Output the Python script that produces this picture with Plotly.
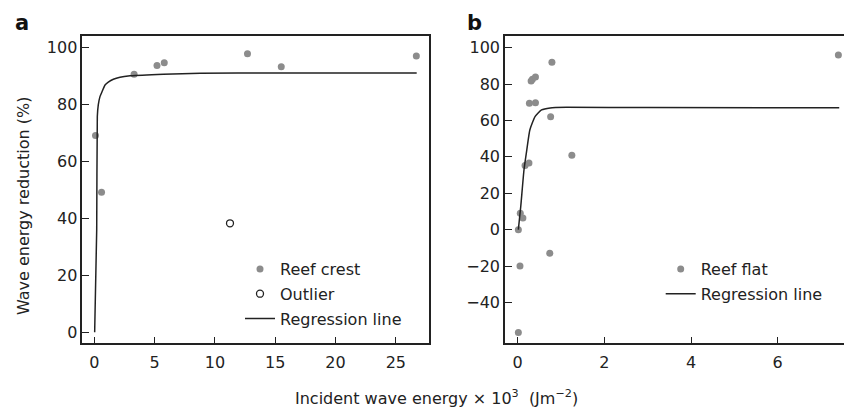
import plotly.graph_objects as go

# ---- Panel a: reef crest ----
crest_x = [0.1, 0.6, 3.3, 5.2, 5.8, 12.7, 15.5, 26.7]
crest_y = [69.1, 49.2, 90.7, 93.7, 94.7, 97.9, 93.3, 97.1]
outlier_x = [11.25]
outlier_y = [38.3]
reg_a_x = [0.03, 0.2, 0.25, 0.33, 0.47, 0.64, 0.89, 1.16, 1.58, 2.13, 2.96, 5.72, 8.79, 15.0, 20.0, 26.73]
reg_a_y = [0.0, 36.0, 75.8, 79.9, 82.8, 84.5, 86.9, 87.9, 88.9, 89.6, 90.1, 90.7, 91.0, 91.1, 91.1, 91.1]

# ---- Panel b: reef flat ----
flat_x = [0.015, 0.06, 0.12, 0.053, 0.015, 0.17, 0.26, 0.27, 0.41, 0.31, 0.34, 0.41, 0.79, 0.76, 0.74, 1.25, 7.40]
flat_y = [0.0, 9.0, 6.4, -19.9, -56.4, 35.2, 36.6, 69.4, 69.8, 81.7, 82.6, 83.9, 92.0, 62.1, -12.9, 40.9, 96.0]
reg_b_x = [0.015, 0.07, 0.145, 0.21, 0.28, 0.40, 0.55, 0.75, 1.13, 3.0, 7.42]
reg_b_y = [0.0, 12.6, 32.8, 43.8, 54.8, 62.1, 65.8, 66.9, 67.2, 67.1, 67.0]

ticks_a_x = [0, 5, 10, 15, 20, 25]
ticks_a_y = [0, 20, 40, 60, 80, 100]
ticks_b_x = [0, 2, 4, 6]
ticks_b_y = [-40, -20, 0, 20, 40, 60, 80, 100]

W, H = 844, 407
FONT = "DejaVu Sans"
TXT = "#222222"
GREY = "#8c8c8c"
LINE = "#222222"

def px(x):
    return x / W

def py(y):
    return 1 - y / H

fig = go.Figure()

fig.add_trace(go.Scatter(x=crest_x, y=crest_y, mode="markers", name="Reef crest",
                         marker=dict(color=GREY, size=7), xaxis="x", yaxis="y",
                         legend="legend", legendgroup="a1"))
fig.add_trace(go.Scatter(x=outlier_x, y=outlier_y, mode="markers", name="Outlier",
                         marker=dict(symbol="circle-open", color=LINE, size=7, line=dict(width=1.3)),
                         xaxis="x", yaxis="y", legend="legend", legendgroup="a2"))
fig.add_trace(go.Scatter(x=reg_a_x, y=reg_a_y, mode="lines", name="Regression line",
                         line=dict(color=LINE, width=1.5, shape="spline", smoothing=0.5),
                         xaxis="x", yaxis="y", legend="legend", legendgroup="a3"))

fig.add_trace(go.Scatter(x=flat_x, y=flat_y, mode="markers", name="Reef flat",
                         marker=dict(color=GREY, size=7), xaxis="x2", yaxis="y2",
                         legend="legend2", legendgroup="b1"))
fig.add_trace(go.Scatter(x=reg_b_x, y=reg_b_y, mode="lines", name="Regression line",
                         line=dict(color=LINE, width=1.5, shape="spline", smoothing=0.5),
                         xaxis="x2", yaxis="y2", legend="legend2", legendgroup="b2"))

ax_common = dict(showgrid=False, zeroline=False, showline=True, linecolor=LINE, linewidth=1.5,
                 ticks="inside", ticklen=7, tickcolor=LINE, tickwidth=1.2,
                 tickfont=dict(family=FONT, size=16, color=TXT))

ydom = [py(343.3), py(36)]

fig.update_layout(
    width=W, height=H,
    margin=dict(l=0, r=0, t=0, b=0),
    paper_bgcolor="white", plot_bgcolor="white",
    showlegend=True,
    xaxis=dict(domain=[px(82.3), px(429)], range=[-0.995, 27.75], tickvals=ticks_a_x,
               mirror=True, anchor="y", ticklabelstandoff=4, **ax_common),
    yaxis=dict(domain=ydom, range=[-3.87, 104.1], tickvals=ticks_a_y,
               mirror=True, anchor="x", **ax_common),
    xaxis2=dict(domain=[px(505), 1.0], range=[-0.293, 7.53], tickvals=ticks_b_x,
                mirror=True, anchor="y2", ticklabelstandoff=4, **ax_common),
    yaxis2=dict(domain=ydom, range=[-62.4, 106.4], tickvals=ticks_b_y,
                mirror=False, anchor="x2", **ax_common),
    legend=dict(x=px(240), y=py(252), xanchor="left", yanchor="top",
                bgcolor="rgba(0,0,0,0)", tracegroupgap=1, traceorder="grouped",
                font=dict(family=FONT, size=16, color=TXT)),
    legend2=dict(x=px(660.7), y=py(252), xanchor="left", yanchor="top",
                 bgcolor="rgba(0,0,0,0)", tracegroupgap=1, traceorder="grouped",
                 font=dict(family=FONT, size=16, color=TXT)),
    annotations=[
        dict(text="Wave energy reduction (%)", textangle=-90, x=px(23), y=py(206),
             xref="paper", yref="paper", xanchor="center", yanchor="middle", showarrow=False,
             font=dict(family=FONT, size=16, color=TXT)),
        dict(text="Incident wave energy \u00d7 10<sup>3</sup>\u00a0\u00a0(Jm<sup>\u22122</sup>)",
             x=px(436), y=py(397), xref="paper", yref="paper", xanchor="center", yanchor="middle",
             showarrow=False, font=dict(family=FONT, size=16, color=TXT)),
        dict(text="<b>a</b>", x=px(13), y=py(23), xref="paper", yref="paper",
             xanchor="left", yanchor="middle", showarrow=False,
             font=dict(family=FONT, size=21, color="#111111")),
        dict(text="<b>b</b>", x=px(465), y=py(23), xref="paper", yref="paper",
             xanchor="left", yanchor="middle", showarrow=False,
             font=dict(family=FONT, size=21, color="#111111")),
    ],
)

fig.write_html("out.html", config={"displayModeBar": False},
               post_script="document.body.style.margin='0';document.body.style.overflow='hidden';")
